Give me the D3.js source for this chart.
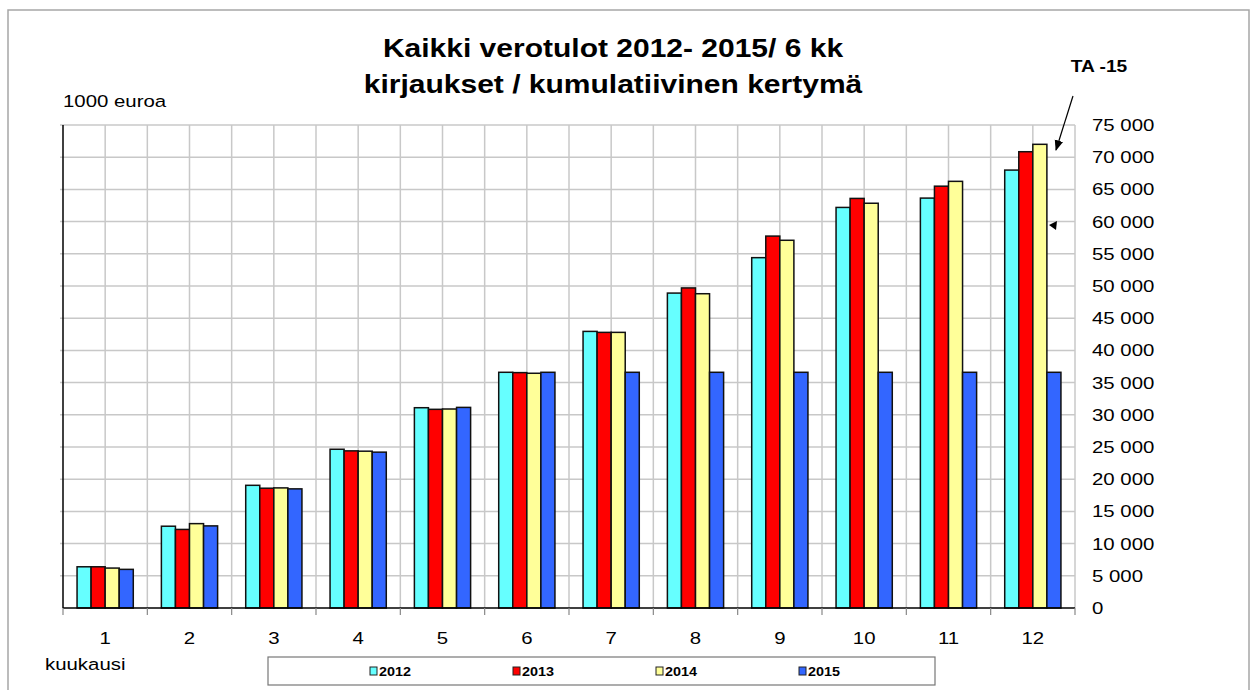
<!DOCTYPE html>
<html>
<head>
<meta charset="utf-8">
<script src="https://cdn.jsdelivr.net/npm/d3@7"></script>
<style>
  body { margin: 0; background: #fff; }
  text { font-family: "Liberation Sans", Arial, sans-serif; fill: #000; }
</style>
</head>
<body>
<svg id="chart" width="1250" height="690"></svg>
<script>
const months = ["1", "2", "3", "4", "5", "6", "7", "8", "9", "10", "11", "12"]
const years = ["2012", "2013", "2014", "2015"]
const colors = ["#66ffff", "#ff0000", "#ffff99", "#3366ff"]
const v2012 = [6400, 12700, 19050, 24650, 31100, 36600, 42950, 48900, 54400, 62200, 63650, 68000]
const v2013 = [6400, 12200, 18600, 24400, 30850, 36550, 42800, 49700, 57750, 63600, 65500, 70850]
const v2014 = [6200, 13100, 18650, 24350, 30900, 36450, 42800, 48800, 57100, 62850, 66250, 72000]
const v2015 = [6000, 12750, 18500, 24200, 31150, 36600, 36600, 36600, 36600, 36600, 36600, 36600]
const yTicks = [0, 5000, 10000, 15000, 20000, 25000, 30000, 35000, 40000, 45000, 50000, 55000, 60000, 65000, 70000, 75000]
const titleLines = ["Kaikki verotulot 2012- 2015/ 6 kk", "kirjaukset / kumulatiivinen kertymä"]

const series = [v2012, v2013, v2014, v2015]
const SX = 1.2 // the original is stretched sideways, text too

const svg = d3.select("#chart")
const plotL = 63, plotR = 1075, plotT = 125, plotB = 608

const x = d3.scaleBand().domain(months).range([plotL, plotR])
const xs = d3.scaleBand().domain(years).range([0, x.bandwidth()]).paddingOuter(1)
const y = d3.scaleLinear().domain([0, 75000]).range([plotB, plotT])

const fmt = v => d3.format(",")(v).replace(/,/g, " ")

function label(g, px, py, str, size, anchor, bold) {
    return g.append("text")
        .attr("transform", `translate(${px},${py}) scale(${SX},1)`)
        .attr("text-anchor", anchor)
        .style("font-size", size + "px")
        .style("font-weight", bold ? "bold" : "normal")
        .text(str)
}

// outer frame
svg.append("rect")
    .attr("x", 8).attr("y", 10).attr("width", 1241).attr("height", 700)
    .attr("fill", "none").attr("stroke", "#a6a6a6").attr("stroke-width", 1.5)

// grid
const grid = svg.append("g").attr("stroke", "#c8c8c8").attr("stroke-width", 1.5)
grid.selectAll(".h").data(yTicks.slice(1)).join("line")
    .attr("x1", plotL - 3).attr("x2", plotR)
    .attr("y1", d => y(d)).attr("y2", d => y(d))
const vLines = d3.range(1, 25).map(i => plotL + i * x.bandwidth() / 2)
grid.selectAll(".v").data(vLines).join("line")
    .attr("x1", d => d).attr("x2", d => d)
    .attr("y1", plotT).attr("y2", plotB)

// bars
series.forEach((vals, si) => {
    svg.append("g")
        .selectAll("rect").data(vals).join("rect")
        .attr("x", (d, i) => x(months[i]) + xs(years[si]))
        .attr("y", d => y(d))
        .attr("width", xs.bandwidth())
        .attr("height", d => plotB - y(d))
        .attr("fill", colors[si])
        .attr("stroke", "#111").attr("stroke-width", 1.5)
})

// axes
svg.append("line").attr("x1", plotL).attr("x2", plotL).attr("y1", plotT).attr("y2", plotB)
    .attr("stroke", "#000").attr("stroke-width", 1.5)
svg.append("line").attr("x1", plotL).attr("x2", plotR).attr("y1", plotB).attr("y2", plotB)
    .attr("stroke", "#000").attr("stroke-width", 1.5)
svg.append("g").selectAll("line").data(d3.range(0, 13)).join("line")
    .attr("x1", i => plotL + i * x.bandwidth()).attr("x2", i => plotL + i * x.bandwidth())
    .attr("y1", plotB).attr("y2", plotB + 7)
    .attr("stroke", "#888").attr("stroke-width", 1.2)

const labels = svg.append("g")
months.forEach(m => label(labels, x(m) + x.bandwidth() / 2, 644, m, 17, "middle"))
yTicks.forEach(t => label(labels, 1092, y(t) + 6, fmt(t), 17, "start"))
label(labels, 63, 107, "1000 euroa", 17, "start")
label(labels, 45, 670, "kuukausi", 17, "start")

// title
titleLines.forEach((t, i) => label(svg, 613, 57 + i * 36, t, 25, "middle", true))
label(svg, 1099, 72, "TA -15", 16, "middle", true)

// arrows
svg.append("defs").append("marker")
    .attr("id", "head").attr("viewBox", "0 0 10 10")
    .attr("refX", 9).attr("refY", 5)
    .attr("markerWidth", 9).attr("markerHeight", 9)
    .attr("orient", "auto-start-reverse")
    .append("path").attr("d", "M0,1 L10,5 L0,9 Z").attr("fill", "#000")
svg.append("line")
    .attr("x1", 1073).attr("y1", 96).attr("x2", 1056).attr("y2", 150)
    .attr("stroke", "#000").attr("stroke-width", 1.2)
    .attr("marker-end", "url(#head)")
svg.append("path").attr("d", "M1049,225 L1057,221 L1056,230 Z").attr("fill", "#000")

// legend
const lg = svg.append("g")
lg.append("rect").attr("x", 268).attr("y", 657).attr("width", 667).attr("height", 28)
    .attr("fill", "#fff").attr("stroke", "#777").attr("stroke-width", 1.2)
years.forEach((yr, i) => {
    const lx = 370 + i * 143
    lg.append("rect").attr("x", lx).attr("y", 667).attr("width", 7).attr("height", 8)
        .attr("fill", colors[i]).attr("stroke", "#222").attr("stroke-width", 1)
    label(lg, lx + 9, 676, yr, 12, "start", true)
})
</script>
</body>
</html>
